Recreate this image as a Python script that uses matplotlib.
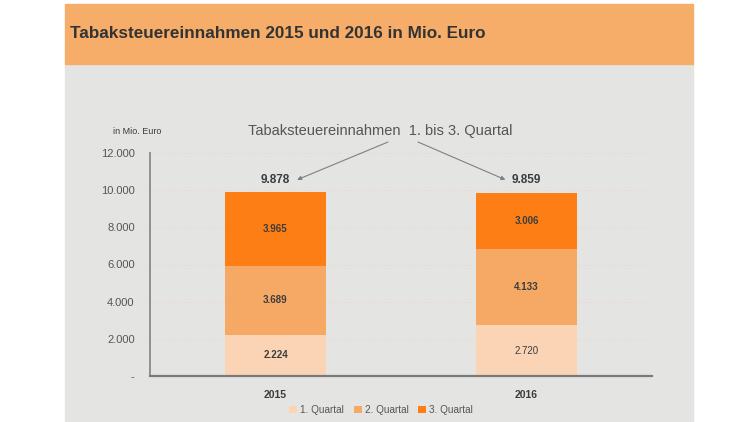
import matplotlib
matplotlib.use("Agg")
import matplotlib.pyplot as plt
from matplotlib.patches import Rectangle

plt.rcParams["font.family"] = ["Liberation Sans", "DejaVu Sans"]

# --- data -------------------------------------------------------------------
years = ["2015", "2016"]
quarters = ["1. Quartal", "2. Quartal", "3. Quartal"]
q1 = [2224, 2720]
q2 = [3689, 4133]
q3 = [3965, 3006]
totals = [9878, 9859]
yticks = [0, 2000, 4000, 6000, 8000, 10000, 12000]
ytick_labels = ["-", "2.000", "4.000", "6.000", "8.000", "10.000", "12.000"]

C_Q1 = "#fad4b4"
C_Q2 = "#f5a964"
C_Q3 = "#fd7e14"
HEADER = "#f6ad69"
PANEL = "#e4e5e2"
TXT = "#3c3c3c"


def de(v):
    return f"{v:,}".replace(",", ".")


W, H = 750, 422
fig = plt.figure(figsize=(W / 100, H / 100), dpi=100)
fig.patch.set_facecolor("white")

# background panel + orange header
fig.patches.append(Rectangle((65 / W, 0), (693 - 65) / W, (H - 64) / H,
                             transform=fig.transFigure, color=PANEL, zorder=-2))
fig.patches.append(Rectangle((65 / W, (H - 64) / H), (693 - 65) / W, 60 / H,
                             transform=fig.transFigure, color=HEADER, zorder=-2))
fig.text(70 / W, 1 - 34 / H, "Tabaksteuereinnahmen 2015 und 2016 in Mio. Euro",
         fontsize=12.3, weight="bold", color="#333333", va="center", ha="left")

# plot area
ax = fig.add_axes([150 / W, 1 - 376 / H, (652 - 150) / W, (376 - 153) / H])
ax.set_zorder(2)
ax.set_facecolor("none")
x = range(len(years))
bw = 0.4
ax.bar(x, q1, bw, color=C_Q1, label=quarters[0], zorder=2)
ax.bar(x, q2, bw, bottom=q1, color=C_Q2, label=quarters[1], zorder=2)
b12 = [a + b for a, b in zip(q1, q2)]
ax.bar(x, q3, bw, bottom=b12, color=C_Q3, label=quarters[2], zorder=2)

ax.set_xlim(-0.5, 1.5)
ax.set_ylim(0, 12000)
ax.set_yticks(yticks)
ax.set_yticklabels(ytick_labels, fontsize=8, color="#555555")
ax.set_xticks(list(x))
ax.set_xticklabels(years, fontsize=7.5, weight="bold", color=TXT)
ax.tick_params(axis="both", length=0)
ax.tick_params(axis="y", pad=11)
ax.tick_params(axis="x", pad=10)
for s in ("top", "right"):
    ax.spines[s].set_visible(False)
ax.spines["left"].set_color("#8a8a8a")
ax.spines["left"].set_linewidth(1.3)
ax.spines["bottom"].set_color("#7a7a7a")
ax.spines["bottom"].set_linewidth(1.6)
for yv in yticks[1:]:
    ax.axhline(yv, color="#f0d6cc", lw=0.8, ls=(0, (1, 1)), zorder=1)

# segment labels
for i in x:
    ax.text(i, q1[i] / 2, de(q1[i]), ha="center", va="center", fontsize=7,
            color=TXT, weight="normal" if i == 1 else "bold", zorder=3)
    ax.text(i, q1[i] + q2[i] / 2, de(q2[i]), ha="center", va="center",
            fontsize=7, color=TXT, weight="bold", zorder=3)
    ax.text(i, b12[i] + q3[i] / 2, de(q3[i]), ha="center", va="center",
            fontsize=7, color=TXT, weight="bold", zorder=3)
    ax.text(i, totals[i] + 680, de(totals[i]), ha="center", va="center",
            fontsize=8.5, color=TXT, weight="bold", zorder=3)

# annotation with arrows
ax.text(0.416, 13180, "Tabaksteuereinnahmen  1. bis 3. Quartal", ha="center",
        va="center", fontsize=10.5, color="#555555", clip_on=False)
ax.annotate("", xy=(0.086, 10560), xytext=(0.448, 12590),
            annotation_clip=False,
            arrowprops=dict(arrowstyle="-|>", color="#808080", lw=0.8,
                            mutation_scale=6, shrinkA=0, shrinkB=0))
ax.annotate("", xy=(0.916, 10560), xytext=(0.568, 12590),
            annotation_clip=False,
            arrowprops=dict(arrowstyle="-|>", color="#808080", lw=0.8,
                            mutation_scale=6, shrinkA=0, shrinkB=0))
fig.text(113 / W, 1 - 131 / H, "in Mio. Euro", fontsize=6.5, color=TXT,
         ha="left", va="center")

leg = fig.legend(loc="center", bbox_to_anchor=(381 / W, 1 - 410 / H), ncol=3,
                 frameon=False, fontsize=7.2, handlelength=0.8, handleheight=0.8,
                 handletextpad=0.3, columnspacing=1.0)
for t in leg.get_texts():
    t.set_color("#555555")

fig.savefig("out.png", dpi=100, facecolor=fig.get_facecolor())
